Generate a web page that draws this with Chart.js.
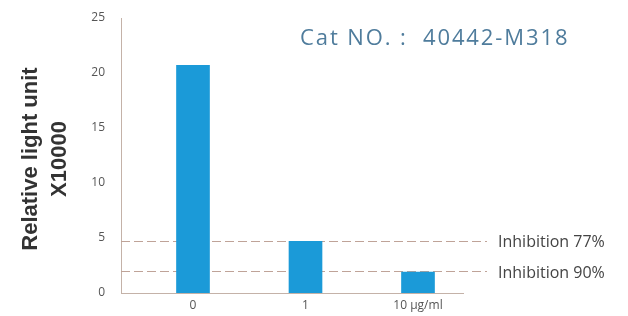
<!DOCTYPE html>
<html>
<head>
<meta charset="utf-8">
<script src="https://cdn.jsdelivr.net/npm/chart.js@4"></script>
<style>
  html, body { margin: 0; padding: 0; background: #fff; }
  #wrap { width: 628px; height: 316px; position: relative; }
</style>
</head>
<body>
<div id="wrap"><canvas id="chart"></canvas></div>
<script>
const categories = ["0", "1", "10 μg/ml"];
const values = [20.7, 4.7, 1.9];
const inhibitionLevels = [4.75, 2.0];
const inhibitionLabels = ["Inhibition 77%", "Inhibition 90%"];
const yTicks = [0, 5, 10, 15, 20, 25];
const catalogText = "Cat NO. :  40442-M318";

const axisColor = "#c4b2a8";

// extra drawing: inhibition lines, axis title, catalog text
const extras = {
  id: "extras",
  beforeDatasetsDraw(chart) {
    const { ctx, chartArea, scales } = chart;
    ctx.save();
    ctx.strokeStyle = "#bfa398";
    ctx.lineWidth = 1;
    ctx.setLineDash([9, 4]);
    inhibitionLevels.forEach(v => {
      const y = Math.round(scales.y.getPixelForValue(v)) + 0.5;
      ctx.beginPath();
      ctx.moveTo(chartArea.left, y);
      ctx.lineTo(chartArea.right + 24, y);
      ctx.stroke();
    });
    ctx.restore();
  },
  afterDraw(chart) {
    const { ctx, chartArea, scales } = chart;
    ctx.save();
    ctx.fillStyle = "#444";
    ctx.font = "16px 'Open Sans'";
    ctx.textBaseline = "middle";
    inhibitionLevels.forEach((v, i) => {
      const y = scales.y.getPixelForValue(v);
      ctx.fillText(inhibitionLabels[i], chartArea.right + 35, y + 2);
    });

    ctx.fillStyle = "#4f7c9c";
    ctx.font = "22px 'Open Sans'";
    ctx.letterSpacing = "1.9px";
    ctx.textBaseline = "alphabetic";
    ctx.fillText(catalogText, 300, 45);
    ctx.letterSpacing = "0px";

    ctx.fillStyle = "#333";
    ctx.font = "bold 22px 'Liberation Sans'";
    ctx.textAlign = "center";
    ctx.textBaseline = "middle";
    ctx.translate(31, 159);
    ctx.rotate(-Math.PI / 2);
    ctx.fillText("Relative light unit", 0, 0);
    ctx.fillText("X10000", 0, 29);
    ctx.restore();
  }
};

new Chart(document.getElementById("chart"), {
  type: "bar",
  data: {
    datasets: [{
      data: values.map((y, i) => ({ x: i, y })),
      backgroundColor: "#1b9ad8",
      barThickness: 33
    }]
  },
  options: {
    responsive: true,
    maintainAspectRatio: false,
    animation: false,
    layout: { padding: { top: 18, right: 165, bottom: 0, left: 0 } },
    plugins: { legend: { display: false }, tooltip: { enabled: false } },
    scales: {
      x: {
        type: "linear",
        offset: false,
        min: -0.64,
        max: 2.4,
        afterBuildTicks: s => { s.ticks = categories.map((c, i) => ({ value: i })); },
        afterFit: s => { s.height = 23; s.paddingLeft = 0; s.paddingRight = 0; },
        grid: { display: false, drawTicks: false },
        border: { color: axisColor },
        ticks: {
          callback: v => categories[v],
          color: "#555",
          font: { family: "Open Sans", size: 12 },
          padding: 5,
          maxRotation: 0
        }
      },
      y: {
        min: 0,
        max: 25,
        afterBuildTicks: s => { s.ticks = yTicks.map(v => ({ value: v })); },
        afterFit: s => { s.width = 121; s.paddingTop = 0; s.paddingBottom = 0; },
        grid: { display: false, drawTicks: false },
        border: { color: axisColor },
        ticks: {
          color: "#555",
          font: { family: "Open Sans", size: 12 },
          padding: 16
        }
      }
    }
  },
  plugins: [extras]
});
</script>
</body>
</html>
